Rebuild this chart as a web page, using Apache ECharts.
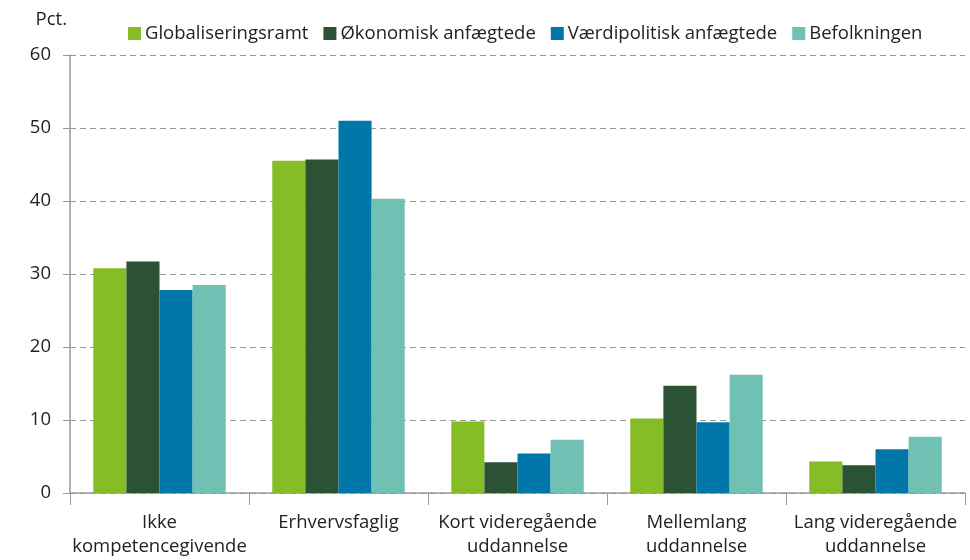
<!DOCTYPE html>
<html>
<head>
<meta charset="utf-8">
<script src="https://cdn.jsdelivr.net/npm/echarts@6/dist/echarts.min.js"></script>
<style>
  html, body { margin: 0; padding: 0; background: #fff; }
  #chart { width: 970px; height: 560px; }
</style>
</head>
<body>
<div id="chart"></div>
<script>
const categories = [
  "Ikke\nkompetencegivende",
  "Erhvervsfaglig",
  "Kort videregående\nuddannelse",
  "Mellemlang\nuddannelse",
  "Lang videregående\nuddannelse"
];
const globaliseringsramt = [30.8, 45.5, 9.8, 10.2, 4.3];
const oekonomisk = [31.7, 45.7, 4.2, 14.7, 3.8];
const vaerdipolitisk = [27.8, 51.0, 5.4, 9.7, 6.0];
const befolkningen = [28.5, 40.3, 7.3, 16.2, 7.7];

const colors = ["#86bc25", "#2b5234", "#0077a8", "#70c1b3"];
const font = "'Open Sans', 'Noto Sans', sans-serif";

const chart = echarts.init(document.getElementById("chart"));

function bar(name, data, color) {
  return {
    name: name,
    type: "bar",
    data: data,
    barGap: "0%",
    barCategoryGap: "26%",
    itemStyle: { color: color },
    emphasis: { disabled: true }
  };
}

chart.setOption({
  animation: false,
  textStyle: { fontFamily: font },
  color: colors,
  legend: {
    top: 19,
    left: 123,
    itemWidth: 13,
    itemHeight: 13,
    itemGap: 15,
    icon: "rect",
    selectedMode: false,
    textStyle: { color: "#222", fontSize: 18.5, fontFamily: font, padding: [0, 0, 0, -1] },
    data: ["Globaliseringsramt", "Økonomisk anfægtede", "Værdipolitisk anfægtede", "Befolkningen"]
  },
  grid: { left: 70, right: 5, top: 55, bottom: 67 },
  xAxis: {
    type: "category",
    data: categories,
    axisLine: { lineStyle: { color: "#999", width: 1.5 } },
    axisTick: { show: true, length: 12, lineStyle: { color: "#999" } },
    axisLabel: { interval: 0, color: "#222", fontSize: 18.5, margin: 18, lineHeight: 24, fontFamily: font }
  },
  yAxis: {
    type: "value",
    min: 0,
    max: 60,
    interval: 10,
    name: "Pct.",
    nameLocation: "end",
    nameGap: 26,
    nameTextStyle: { color: "#222", fontSize: 18.5, align: "right", padding: [0, 3, 0, 0], fontFamily: font },
    axisLine: { show: true, lineStyle: { color: "#999", width: 1.5 } },
    axisTick: { show: true, length: 7, lineStyle: { color: "#999" } },
    axisLabel: { color: "#222", fontSize: 18.5, margin: 19, fontFamily: font },
    splitLine: { lineStyle: { color: "#999", type: [6, 4], width: 1.2 } }
  },
  series: [
    bar("Globaliseringsramt", globaliseringsramt, colors[0]),
    bar("Økonomisk anfægtede", oekonomisk, colors[1]),
    bar("Værdipolitisk anfægtede", vaerdipolitisk, colors[2]),
    bar("Befolkningen", befolkningen, colors[3])
  ]
});
</script>
</body>
</html>
